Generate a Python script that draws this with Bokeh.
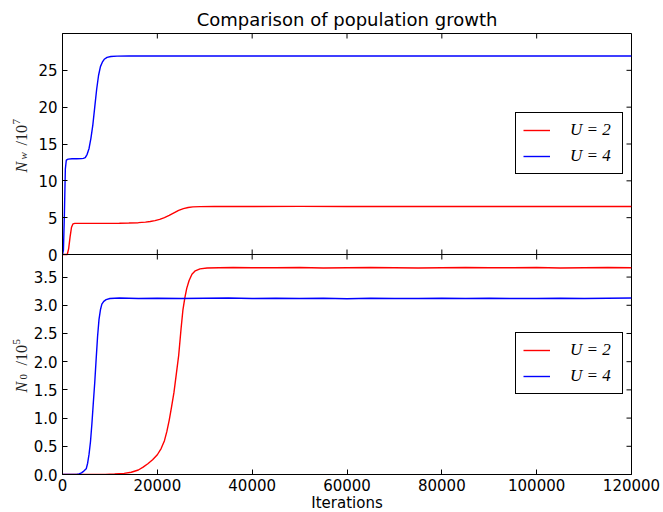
from math import pi

from bokeh.core.properties import value
from bokeh.embed import file_html
from bokeh.layouts import row
from bokeh.models import (BasicTickFormatter, FixedTicker, Legend, LegendItem,
                          LinearAxis, Range1d, Span)
from bokeh.plotting import figure
from bokeh.resources import INLINE

# ---------------------------------------------------------------------------
# Data: population sizes against iteration count for two values of U
# ---------------------------------------------------------------------------

# N_w / 10^7, U = 2
iters_nw_u2 = [0, 1000, 1300, 1600, 1900, 2200, 2600, 4000, 8000, 12000, 14000,
               16000, 17500, 18500, 19500, 20500, 21500, 22500, 23500, 24500,
               25500, 26500, 27500, 29000, 32000, 40000, 50000, 60000, 70000,
               80000, 90000, 100000, 110000, 120000]
nw_u2 = [0.0, 0.0, 0.8, 2.4, 3.7, 4.15, 4.22, 4.22, 4.23, 4.25, 4.27,
         4.32, 4.4, 4.48, 4.6, 4.76, 5.0, 5.3, 5.65, 5.98,
         6.22, 6.38, 6.46, 6.5, 6.52, 6.52, 6.53, 6.52, 6.52,
         6.52, 6.52, 6.52, 6.52, 6.52]

# N_w / 10^7, U = 4
iters_nw_u4 = [0, 200, 400, 600, 800, 1200, 2000, 3000, 4000, 4400, 4800, 5200,
               5600, 6000, 6400, 6800, 7200, 7600, 8000, 8400, 8800, 9400,
               10200, 11500, 14000, 20000, 30000, 40000, 50000, 60000, 70000,
               80000, 90000, 100000, 110000, 120000]
nw_u4 = [0.0, 0.6, 5.5, 11.6, 12.8, 12.95, 13.0, 13.0, 13.02, 13.05, 13.15, 13.6,
         14.4, 15.8, 17.6, 20.0, 22.4, 24.3, 25.5, 26.1, 26.5, 26.75,
         26.88, 26.93, 26.95, 26.94, 26.95, 26.94, 26.94, 26.95, 26.94,
         26.94, 26.95, 26.94, 26.94, 26.94]

# N_0 / 10^5, U = 2
iters_n0_u2 = [0, 6000, 9000, 11000, 13000, 14500, 16000, 17000, 18000, 19000,
               20000, 20800, 21500, 22000, 22500, 23000, 23500, 24000, 24500,
               25000, 25400, 25800, 26200, 26700, 27300, 28000, 29000, 30500,
               33000, 36000, 40000, 45000, 50000, 55000, 60000, 65000, 70000,
               75000, 80000, 85000, 90000, 95000, 100000, 105000, 110000,
               115000, 120000]
n0_u2 = [0.0, 0.0, 0.003, 0.008, 0.02, 0.04, 0.08, 0.13, 0.19, 0.26,
         0.35, 0.46, 0.6, 0.76, 0.96, 1.2, 1.45, 1.78, 2.11,
         2.58, 2.92, 3.13, 3.3, 3.44, 3.55, 3.61, 3.645, 3.66,
         3.665, 3.67, 3.665, 3.665, 3.67, 3.66, 3.665, 3.67, 3.665,
         3.66, 3.665, 3.67, 3.665, 3.665, 3.67, 3.66, 3.665,
         3.67, 3.665]

# N_0 / 10^5, U = 4
iters_n0_u4 = [0, 3000, 3500, 4000, 4500, 5000, 5300, 5600, 5900, 6200, 6500,
               6800, 7100, 7400, 7700, 8000, 8300, 8700, 9200, 10000, 12000,
               16000, 20000, 25000, 30000, 35000, 40000, 45000, 50000, 55000,
               60000, 65000, 70000, 75000, 80000, 85000, 90000, 95000, 100000,
               105000, 110000, 115000, 120000]
n0_u4 = [0.0, 0.0, 0.01, 0.03, 0.06, 0.1, 0.2, 0.36, 0.58, 0.9, 1.27,
         1.63, 2.05, 2.45, 2.75, 2.92, 3.02, 3.07, 3.1, 3.12, 3.13,
         3.12, 3.125, 3.12, 3.125, 3.13, 3.12, 3.125, 3.12, 3.125,
         3.115, 3.125, 3.12, 3.12, 3.125, 3.12, 3.125, 3.12, 3.12,
         3.125, 3.12, 3.125, 3.13]

x_ticks = [0, 20000, 40000, 60000, 80000, 100000, 120000]
nw_ticks = [0, 5, 10, 15, 20, 25]
n0_ticks = [0.0, 0.5, 1.0, 1.5, 2.0, 2.5, 3.0, 3.5]
x_max = 120000
nw_max = 30.0
n0_max = 3.9

# ---------------------------------------------------------------------------
# Layout: one frame split into an upper (N_w) and a lower (N_0) panel
# ---------------------------------------------------------------------------
LABEL_W = 30
FRAME_W = 569
TOP_H = 221
BOT_H = 220
FRAME_H = TOP_H + BOT_H
BORDER_TOP = 33
BORDER_BOTTOM = 38

y_end = n0_max * FRAME_H / BOT_H          # lower panel lives on the default range
nw_start = -nw_max * BOT_H / TOP_H        # upper panel lives on an extra range

p = figure(frame_width=FRAME_W, frame_height=FRAME_H,
           min_border_left=60 - LABEL_W, min_border_right=34,
           min_border_top=BORDER_TOP, min_border_bottom=BORDER_BOTTOM,
           x_range=Range1d(0, x_max), y_range=Range1d(0, y_end),
           output_backend="svg", toolbar_location=None,
           x_axis_location=None, y_axis_location=None,
           background_fill_color="white", border_fill_color="white")
p.extra_y_ranges = {"nw": Range1d(nw_start, nw_max)}
p.grid.visible = False
p.outline_line_color = "black"
p.outline_line_width = 1
p.outline_line_alpha = 1

FONT = "DejaVu Sans"
TICK_FS = "15px"

# left tick positions: lower panel direct, upper panel mapped onto the default range
nw_pos = [n0_max + v * (y_end - n0_max) / nw_max for v in nw_ticks]
y_tick_pos = list(n0_ticks) + nw_pos
y_labels = {}
for v in n0_ticks:
    y_labels[v] = "%.1f" % v
for v, pos in zip(nw_ticks, nw_pos):
    y_labels[pos] = "%d" % v


def style_axis(ax):
    ax.major_tick_in = 5
    ax.major_tick_out = 0
    ax.minor_tick_in = 0
    ax.minor_tick_out = 0
    ax.axis_line_color = "black"
    ax.major_tick_line_color = "black"
    ax.major_label_text_font = FONT
    ax.major_label_text_font_size = TICK_FS
    ax.major_label_text_color = "black"
    ax.major_label_standoff = 5


left = LinearAxis(ticker=FixedTicker(ticks=y_tick_pos), major_label_overrides=y_labels)
style_axis(left)
p.add_layout(left, "left")

bottom = LinearAxis(ticker=FixedTicker(ticks=x_ticks),
                    formatter=BasicTickFormatter(use_scientific=False),
                    axis_label="Iterations")
style_axis(bottom)
bottom.major_label_standoff = 4
bottom.axis_label_standoff = 0
bottom.axis_label_text_font = FONT
bottom.axis_label_text_font_size = TICK_FS
bottom.axis_label_text_font_style = "normal"
bottom.axis_label_text_color = "black"
p.add_layout(bottom, "below")

# inward ticks on the top edge, the right edge and across the panel divider
TICK_KW = dict(size=10, line_color="black", line_width=1)
p.scatter(x_ticks, [y_end] * len(x_ticks), marker="dash", angle=pi / 2, **TICK_KW)
p.scatter(x_ticks, [n0_max] * len(x_ticks), marker="dash", angle=pi / 2, **TICK_KW)
p.scatter([x_max] * len(y_tick_pos), y_tick_pos, marker="dash", **TICK_KW)
p.add_layout(Span(location=n0_max, dimension="width", line_color="black", line_width=1))

p.title.text = "Comparison of population growth"
p.title.align = "center"
p.title.text_font = FONT
p.title.text_font_size = "18px"
p.title.text_font_style = "normal"
p.title.text_color = "black"
p.title.standoff = 8

LW = 1.4
r_nw2 = p.line(iters_nw_u2, nw_u2, y_range_name="nw", line_color="#ff0000", line_width=LW)
r_nw4 = p.line(iters_nw_u4, nw_u4, y_range_name="nw", line_color="#0000ff", line_width=LW)
r_n02 = p.line(iters_n0_u2, n0_u2, line_color="#ff0000", line_width=LW)
r_n04 = p.line(iters_n0_u4, n0_u4, line_color="#0000ff", line_width=LW)


def make_legend(r2, r4, loc):
    leg = Legend(items=[LegendItem(label="U = 2", renderers=[r2]),
                        LegendItem(label="U = 4", renderers=[r4])],
                 location=loc, orientation="vertical")
    leg.label_text_font = "Liberation Serif"
    leg.label_text_font_style = "italic"
    leg.label_text_font_size = "17px"
    leg.label_text_color = "black"
    leg.glyph_width = 27
    leg.glyph_height = 20
    leg.label_standoff = 20
    leg.label_width = 45
    leg.label_height = 20
    leg.spacing = 6
    leg.padding = 7
    leg.margin = 0
    leg.border_line_color = "black"
    leg.border_line_width = 1
    leg.border_line_alpha = 1
    leg.background_fill_color = "white"
    leg.background_fill_alpha = 1
    return leg


p.add_layout(make_legend(r_nw2, r_nw4, (453, 300)))
p.add_layout(make_legend(r_n02, r_n04, (453, 80)))

# ---------------------------------------------------------------------------
# Strip on the left carrying the rotated y labels  N_w /10^7  and  N_0 /10^5.
# Its frame spans the same rows as the main frame and its data units are
# pixels, so a page row r sits at y = FRAME_BOTTOM - r.
# ---------------------------------------------------------------------------
FRAME_BOTTOM = BORDER_TOP + FRAME_H
lab = figure(frame_width=LABEL_W, frame_height=FRAME_H,
             min_border_left=0, min_border_right=0,
             min_border_top=BORDER_TOP, min_border_bottom=BORDER_BOTTOM,
             x_range=Range1d(0, LABEL_W), y_range=Range1d(0, FRAME_H),
             output_backend="svg", toolbar_location=None,
             x_axis_location=None, y_axis_location=None,
             background_fill_color="white", border_fill_color="white")
lab.title = None
lab.grid.visible = False
lab.outline_line_color = None

LABEL_FONT = value("Liberation Serif")
LABEL_COLOR = "#222222"
BASELINE_SHIFT = 0.34      # anchor sits this fraction of the size above the baseline


def y_label(start_row, sub, exp):
    """Place symbol, subscript, '/10' and exponent, reading bottom to top."""
    baseline = 26.5
    pieces = [
        ("N", baseline, start_row, 16, "italic"),
        (sub, baseline, start_row - 13, 11, "italic" if sub.isalpha() else "normal"),
        ("/10", baseline, start_row - 27, 16, "normal"),
        (exp, baseline - 7, start_row - 48, 11, "normal"),
    ]
    for text, bx, r, fs, style in pieces:
        lab.text(x=[bx - BASELINE_SHIFT * fs], y=[FRAME_BOTTOM - r], text=[text],
                 angle=pi / 2, text_font=LABEL_FONT,
                 text_font_size=value("%dpx" % fs), text_font_style=style,
                 text_color=LABEL_COLOR, text_align="left",
                 text_baseline="alphabetic")


y_label(172, "w", "7")
y_label(392, "0", "5")

layout = row(lab, p, spacing=0)
open("out.html", "w").write(file_html(layout, INLINE))
